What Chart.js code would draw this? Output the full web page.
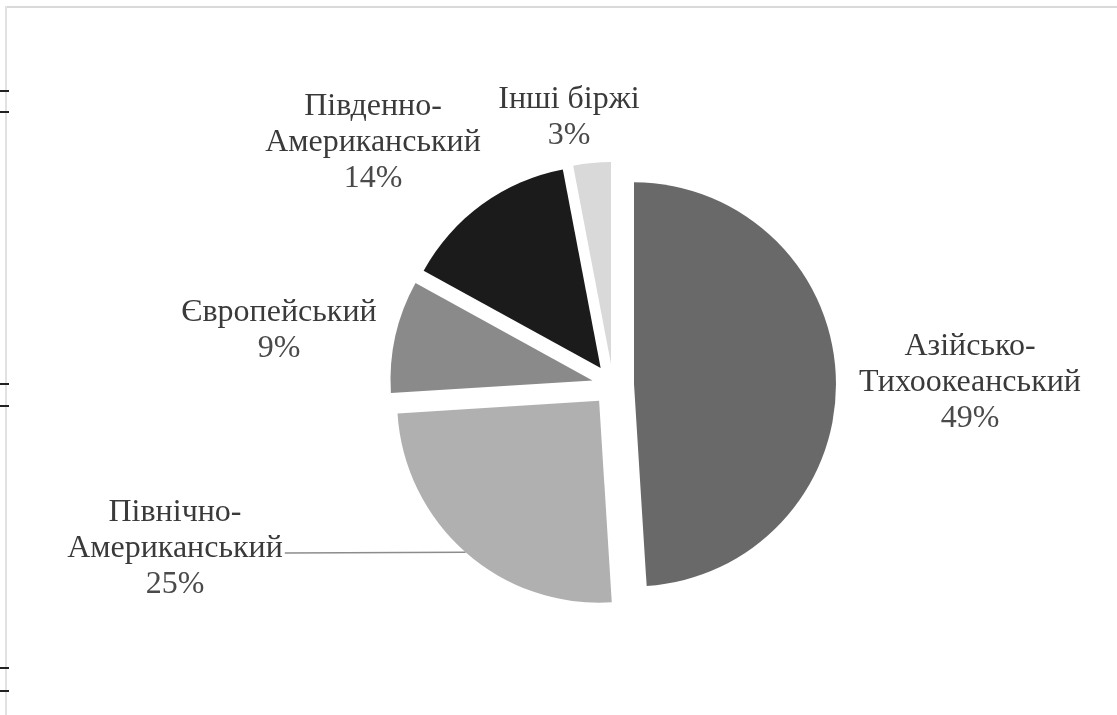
<!DOCTYPE html>
<html>
<head>
<meta charset="utf-8">
<script src="https://cdn.jsdelivr.net/npm/chart.js@4/dist/chart.umd.min.js"></script>
<style>
html,body{margin:0;padding:0;background:#fff;}
#wrap{position:relative;width:1117px;height:715px;overflow:hidden;background:#fff;}
#wrap canvas{position:absolute;left:0;top:0;}
.frameTop{position:absolute;left:5px;top:6px;width:1112px;height:2px;background:#d9d9d9;}
.frameLeft{position:absolute;left:5px;top:6px;width:2px;height:709px;background:#e2e2e2;}
.tick{position:absolute;left:0;width:9px;height:2px;background:#222;}
</style>
</head>
<body>
<div id="wrap">
  <div class="frameTop"></div>
  <div class="frameLeft"></div>
  <div class="tick" style="top:90px"></div>
  <div class="tick" style="top:111px"></div>
  <div class="tick" style="top:383px"></div>
  <div class="tick" style="top:405px"></div>
  <div class="tick" style="top:667px"></div>
  <div class="tick" style="top:690px"></div>
  <canvas id="c" width="1117" height="715"></canvas>
</div>
<script>
// ---- data ----
const categories = ['Азійсько-Тихоокеанський', 'Північно-Американський', 'Європейський', 'Південно-Американський', 'Інші біржі'];
const labelLines = [['Азійсько-', 'Тихоокеанський'], ['Північно-', 'Американський'], ['Європейський'], ['Південно-', 'Американський'], ['Інші біржі']];
const shares = [49, 25, 9, 14, 3];
const sliceColors = ['#696969', '#b0b0b0', '#8a8a8a', '#1b1b1b', '#d9d9d9'];

// ---- label layout (offsets of each label block centre from the pie centre) ----
const labelOffsets = [[357, -2], [-438, 164], [-334, -54], [-240, -242], [-44, -267]];
const leaderFor = [false, true, false, false, false];

// Exploded slices: translate each arc along its mid angle by offset/4
// while keeping the library-computed radius and angles unchanged.
const baseArcDraw = Chart.ArcElement.prototype.draw;
Chart.ArcElement.prototype.draw = function (ctx) {
  const off = (this.options.offset || 0) / 4;
  if (!off) { return baseArcDraw.call(this, ctx); }
  const mid = (this.startAngle + this.endAngle) / 2;
  ctx.save();
  ctx.translate(Math.cos(mid) * off, Math.sin(mid) * off);
  ctx.beginPath();
  ctx.moveTo(this.x, this.y);
  ctx.arc(this.x, this.y, this.outerRadius, this.startAngle, this.endAngle);
  ctx.closePath();
  ctx.fillStyle = this.options.backgroundColor;
  ctx.fill();
  ctx.restore();
};

const labelPlugin = {
  id: 'sliceLabels',
  afterDatasetsDraw(chart) {
    const ctx = chart.ctx;
    const meta = chart.getDatasetMeta(0);
    const lh = 36;
    ctx.save();
    ctx.font = '32px "Liberation Serif", "Times New Roman", serif';
    ctx.textAlign = 'center';
    ctx.textBaseline = 'middle';
    meta.data.forEach((arc, i) => {
      const cx = arc.x + labelOffsets[i][0];
      const cy = arc.y + labelOffsets[i][1];
      const lines = labelLines[i].concat([shares[i] + '%']);
      const top = cy - (lines.length - 1) * lh / 2;
      lines.forEach((t, k) => {
        ctx.fillStyle = (k === lines.length - 1) ? '#4a4a4a' : '#3a3a3a';
        ctx.fillText(t, cx, top + k * lh);
      });
      if (leaderFor[i]) {
        const longLine = lines[lines.length - 2];
        const w = ctx.measureText(longLine).width;
        const ly = top + (lines.length - 2) * lh + 4;
        const mid = (arc.startAngle + arc.endAngle) / 2;
        const off = (arc.options.offset || 0) / 4;
        const ex = arc.x + Math.cos(mid) * (arc.outerRadius + off);
        const ey = arc.y + Math.sin(mid) * (arc.outerRadius + off);
        ctx.strokeStyle = '#8c8c8c';
        ctx.lineWidth = 1.5;
        ctx.beginPath();
        ctx.moveTo(cx + w / 2 + 2, ly);
        ctx.lineTo(ex, ey);
        ctx.stroke();
      }
    });
    ctx.restore();
  }
};

new Chart(document.getElementById('c'), {
  type: 'pie',
  data: {
    labels: categories,
    datasets: [{
      data: shares,
      backgroundColor: sliceColors,
      borderWidth: 0,
      offset: 84,
      hoverOffset: 0
    }]
  },
  options: {
    responsive: false,
    animation: false,
    events: [],
    radius: 202,
    layout: { padding: { left: 109, right: 0, top: 55, bottom: 0 } },
    plugins: {
      legend: { display: false },
      tooltip: { enabled: false },
      title: { display: false }
    }
  },
  plugins: [labelPlugin]
});
</script>
</body>
</html>
